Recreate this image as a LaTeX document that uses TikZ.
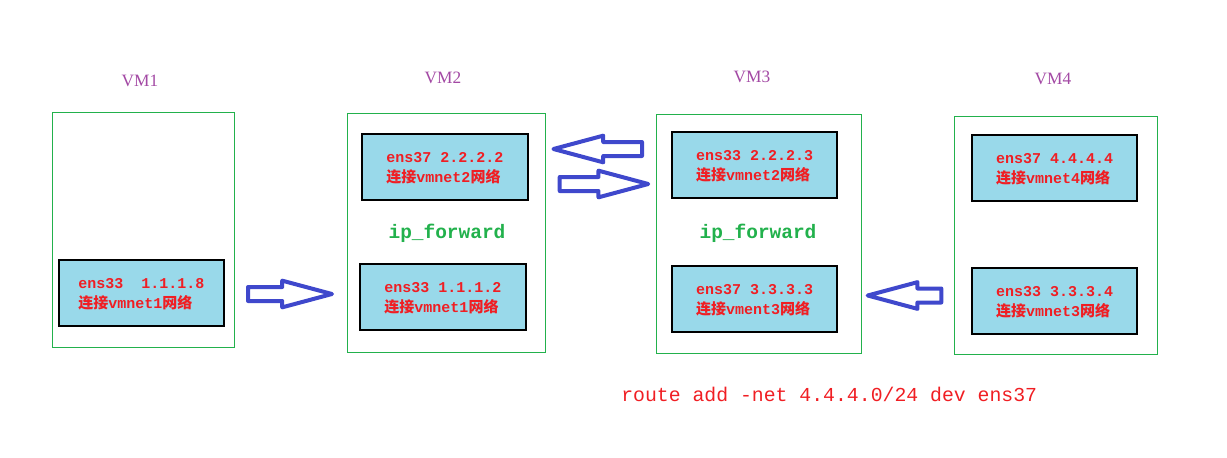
\documentclass[tikz,border=0pt]{standalone}
\usepackage{fontspec}
\usepackage{tikz}
\usetikzlibrary{fit,shapes.arrows}
\setmainfont{Liberation Serif}
\setmonofont{Liberation Mono}
\newfontfamily\cjk{Noto Sans CJK SC}
\definecolor{vmgreen}{HTML}{22B14C}
\definecolor{nicblue}{HTML}{99D9EA}
\definecolor{arrowblue}{HTML}{3F48CC}
\definecolor{vmpurple}{HTML}{A349A4}
\definecolor{txtred}{HTML}{F01E23}
\newcommand{\nicinfo}[2]{#1\\{\cjk 连接}#2{\cjk 网络}}

\begin{document}
\begin{tikzpicture}[x=0.75pt,y=-0.75pt]
\tikzstyle{every node}+=[inner sep=0pt]
\tikzstyle{vmframe}=[draw=vmgreen, line width=0.75pt]
\tikzstyle{nic}=[draw=black, fill=nicblue, line width=0.8pt]
\tikzstyle{nictext}=[text=txtred, align=left, yshift=-0.75pt, font=\ttfamily\bfseries\fontsize{11.25}{15.2}\selectfont]
\tikzstyle{vmlabel}=[text=vmpurple, font=\fontsize{13}{15}\selectfont]
\tikzstyle{fwd}=[text=vmgreen, font=\ttfamily\bfseries\fontsize{14.6}{17}\selectfont]
\tikzstyle{blockarrow}=[single arrow, draw=arrowblue, line width=3pt, line join=round, inner xsep=0pt, inner ysep=3.75pt, single arrow head extend=4.75pt, single arrow tip angle=30, anchor=tail]
\useasboundingbox (0,0) rectangle (1227,457);
\node [vmlabel] (vm1lbl) at (140,81) {VM1};
\node [vmlabel] (vm2lbl) at (443,78) {VM2};
\node [vmlabel] (vm3lbl) at (752,77) {VM3};
\node [vmlabel] (vm4lbl) at (1053,79) {VM4};
\node [vmframe, fit={(52,112) (234,347)}] (vm1) {};
\node [vmframe, fit={(347,113) (545,352)}] (vm2) {};
\node [vmframe, fit={(656,114) (861,353)}] (vm3) {};
\node [vmframe, fit={(954,116) (1157,354)}] (vm4) {};
\node [nic, fit={(59,260) (224,326)}] (vm1ens33) {};
\node [nic, fit={(362,134) (528,200)}] (vm2ens37) {};
\node [nic, fit={(360,264) (526,330)}] (vm2ens33) {};
\node [nic, fit={(672,132) (837,198)}] (vm3ens33) {};
\node [nic, fit={(672,266) (837,332)}] (vm3ens37) {};
\node [nic, fit={(972,135) (1137,201)}] (vm4ens37) {};
\node [nic, fit={(972,268) (1137,334)}] (vm4ens33) {};
\node [nictext] (vm1ens33txt) at (vm1ens33.center) {\nicinfo{ens33\ \ 1.1.1.8}{vmnet1}};
\node [nictext] (vm2ens37txt) at (vm2ens37.center) {\nicinfo{ens37 2.2.2.2}{vmnet2}};
\node [nictext] (vm2ens33txt) at (vm2ens33.center) {\nicinfo{ens33 1.1.1.2}{vmnet1}};
\node [nictext] (vm3ens33txt) at (vm3ens33.center) {\nicinfo{ens33 2.2.2.3}{vmnet2}};
\node [nictext] (vm3ens37txt) at (vm3ens37.center) {\nicinfo{ens37 3.3.3.3}{vment3}};
\node [nictext] (vm4ens37txt) at (vm4ens37.center) {\nicinfo{ens37 4.4.4.4}{vmnet4}};
\node [nictext] (vm4ens33txt) at (vm4ens33.center) {\nicinfo{ens33 3.3.3.4}{vmnet3}};
\node [fwd] (vm2fwd) at (447,233) {ip\_forward};
\node [fwd] (vm3fwd) at (758,233) {ip\_forward};
\node [blockarrow, minimum height=63pt] (arr12) at (246,294) {};
\node [blockarrow, minimum height=66.4pt, shape border rotate=180] (arr32) at (644,149) {};
\node [blockarrow, minimum height=66.4pt] (arr23) at (557.7,184) {};
\node [blockarrow, minimum height=55.2pt, shape border rotate=180] (arr43) at (943.3,295.5) {};
\node [anchor=base west, text=txtred, font=\ttfamily\fontsize{14.85}{17}\selectfont] (route) at (621,401) {route add -net 4.4.4.0/24 dev ens37};
\end{tikzpicture}
\end{document}
